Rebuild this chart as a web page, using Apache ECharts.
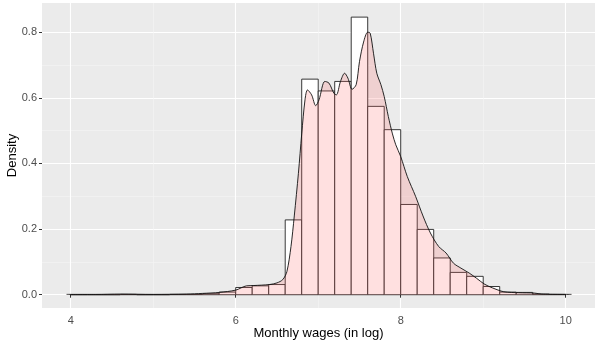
<!DOCTYPE html>
<html>
<head>
<meta charset="utf-8">
<script src="https://cdn.jsdelivr.net/npm/echarts@6/dist/echarts.min.js"></script>
<style>
  html, body { margin: 0; padding: 0; background: #fff; }
  #chart { width: 602px; height: 347px; }
</style>
</head>
<body>
<div id="chart"></div>
<script>
// histogram bins (width 0.2), start of each bin and its density
const binStarts = [4.0, 4.2, 4.4, 4.6, 4.8, 5.0, 5.2, 5.4, 5.6, 5.8,
  6.0, 6.2, 6.4, 6.6, 6.8, 7.0, 7.2, 7.4, 7.6, 7.8,
  8.0, 8.2, 8.4, 8.6, 8.8, 9.0, 9.2, 9.4, 9.6, 9.8];
const binHeights = [0, 0, 0, 0.001, 0, 0, 0.001, 0.001, 0.003, 0.008,
  0.022, 0.027, 0.031, 0.228, 0.657, 0.621, 0.65, 0.846, 0.574, 0.503,
  0.275, 0.199, 0.112, 0.068, 0.056, 0.025, 0.008, 0.007, 0.002, 0.001];
const binWidth = 0.2;

// kernel density curve
const densX = [3.95, 4.3, 4.6, 5.0, 5.4, 5.6, 5.8, 6.0, 6.13, 6.22, 6.41, 6.5, 6.57, 6.62, 6.67, 6.71,
  6.76, 6.8, 6.84, 6.87, 6.92, 6.97, 7.01, 7.08, 7.13, 7.19, 7.22, 7.27, 7.32, 7.36,
  7.41, 7.46, 7.5, 7.55, 7.6, 7.63, 7.67, 7.71, 7.76, 7.8, 7.85, 7.9, 7.94, 8.0,
  8.08, 8.18, 8.27, 8.36, 8.46, 8.55, 8.64, 8.73, 8.83, 8.92, 9.01, 9.11, 9.25,
  9.43, 9.62, 9.71, 10.07];
const densY = [0.001, 0.001, 0.002, 0.001, 0.002, 0.004, 0.007, 0.014, 0.027, 0.028, 0.031, 0.036, 0.046, 0.07, 0.147, 0.24,
  0.37, 0.49, 0.594, 0.624, 0.609, 0.576, 0.594, 0.65, 0.645, 0.614, 0.609, 0.65, 0.675, 0.66,
  0.626, 0.64, 0.71, 0.77, 0.8, 0.797, 0.736, 0.675, 0.64, 0.604, 0.543, 0.49, 0.457, 0.421,
  0.36, 0.3, 0.24, 0.188, 0.147, 0.127, 0.096, 0.081, 0.066, 0.05, 0.033, 0.021, 0.009,
  0.006, 0.005, 0.002, 0.001];

const xMajor = [4, 6, 8, 10];
const xMinor = [5, 7, 9];
const yMajor = [0, 0.2, 0.4, 0.6, 0.8];
const yMinor = [0.1, 0.3, 0.5, 0.7];

const histData = binStarts.map((s, i) => [s, s + binWidth, binHeights[i]]);
const densData = densX.map((x, i) => [x, densY[i]]);

const chart = echarts.init(document.getElementById('chart'));

const xRange = { min: 3.652, max: 10.355 };
const yRange = { min: -0.0405, max: 0.889 };
const tickLabel = { color: '#4D4D4D', fontSize: 11, fontFamily: 'Liberation Sans' };
const titleStyle = { color: '#000', fontSize: 13, fontFamily: 'Liberation Sans' };

chart.setOption({
  animation: false,
  grid: {
    left: 42, right: 7, top: 3, bottom: 39,
    outerBoundsMode: 'none',
    show: true, backgroundColor: '#EBEBEB', borderWidth: 0
  },
  xAxis: [{
    type: 'value', ...xRange,
    name: 'Monthly wages (in log)', nameLocation: 'middle', nameGap: 19,
    nameMoveOverlap: false,
    nameTextStyle: titleStyle,
    axisLine: { show: false },
    axisTick: { show: true, length: 3, customValues: xMajor, lineStyle: { color: '#333', width: 1 } },
    axisLabel: { customValues: xMajor, margin: 7, ...tickLabel },
    splitLine: { show: true, lineStyle: { color: '#fff', width: 1.1 } }
  }, {
    type: 'value', ...xRange,
    axisLine: { show: false },
    axisTick: { show: false, customValues: xMinor },
    axisLabel: { show: false, customValues: xMinor },
    splitLine: { show: true, lineStyle: { color: '#F5F5F5', width: 0.6 } }
  }],
  yAxis: [{
    type: 'value', ...yRange,
    name: 'Density', nameLocation: 'middle', nameGap: 23, nameRotate: 90,
    nameMoveOverlap: false,
    nameTextStyle: titleStyle,
    axisLine: { show: false },
    axisTick: { show: true, length: 3, customValues: yMajor, lineStyle: { color: '#333', width: 1 } },
    axisLabel: { customValues: yMajor, margin: 5, formatter: v => v.toFixed(1), ...tickLabel },
    splitLine: { show: true, lineStyle: { color: '#fff', width: 1.1 } }
  }, {
    type: 'value', ...yRange,
    axisLine: { show: false },
    axisTick: { show: false, customValues: yMinor },
    axisLabel: { show: false, customValues: yMinor },
    splitLine: { show: true, lineStyle: { color: '#F5F5F5', width: 0.6 } }
  }],
  series: [{
    type: 'custom',
    xAxisIndex: 0, yAxisIndex: 0,
    data: histData,
    encode: { x: [0, 1], y: 2 },
    renderItem: function (params, api) {
      const p0 = api.coord([api.value(0), api.value(2)]);
      const p1 = api.coord([api.value(1), 0]);
      return {
        type: 'rect',
        shape: { x: p0[0], y: p0[1], width: p1[0] - p0[0], height: p1[1] - p0[1] },
        style: { fill: '#fff', stroke: '#222', lineWidth: 0.9 }
      };
    }
  }, {
    type: 'line',
    xAxisIndex: 0, yAxisIndex: 0,
    data: densData,
    smooth: 0.3,
    symbol: 'none',
    lineStyle: { color: '#111', width: 0.9 },
    areaStyle: { color: '#FF6666', opacity: 0.2, origin: 0 },
    z: 3
  }]
});
</script>
</body>
</html>
